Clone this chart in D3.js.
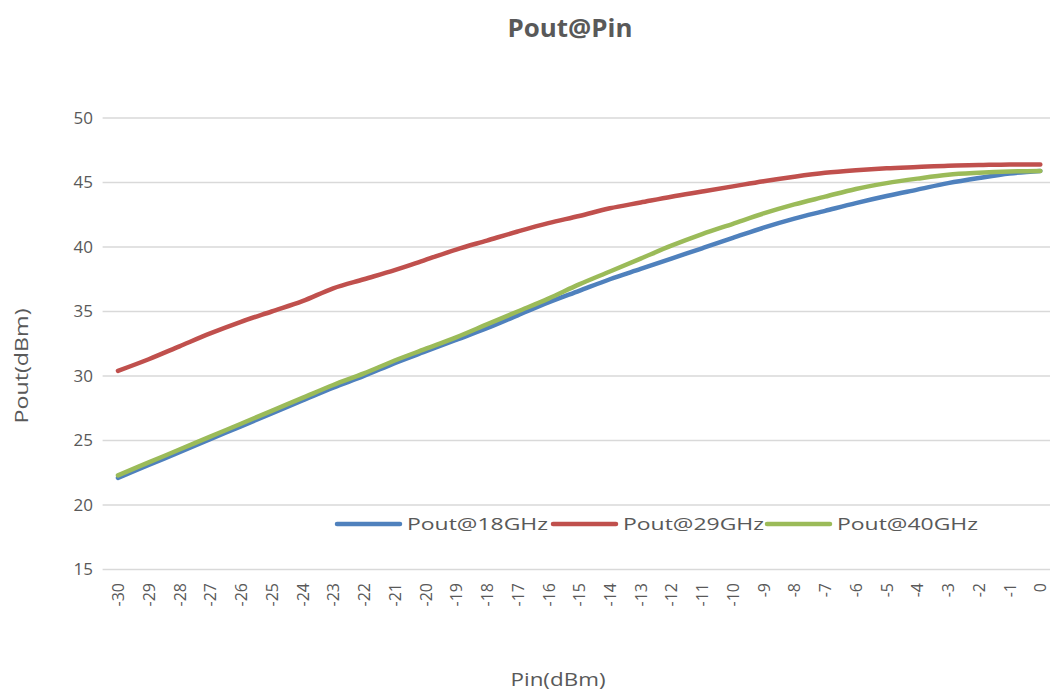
<!DOCTYPE html>
<html><head><meta charset="utf-8">
<script src="https://cdn.jsdelivr.net/npm/d3@7"></script>
<style>body{margin:0;background:#fff}svg{display:block}text{font-family:"Open Sans",sans-serif;fill:#595959}</style>
</head><body><div id="chart"></div>
<script>
const categories = [-30,-29,-28,-27,-26,-25,-24,-23,-22,-21,-20,-19,-18,-17,-16,-15,-14,-13,-12,-11,-10,-9,-8,-7,-6,-5,-4,-3,-2,-1,0];
const pout18 = [22.1,23.1,24.1,25.1,26.1,27.1,28.1,29.1,30.0,31.0,31.9,32.8,33.7,34.7,35.7,36.6,37.5,38.3,39.1,39.9,40.7,41.5,42.2,42.8,43.4,43.95,44.45,44.95,45.35,45.7,45.9];
const pout29 = [30.4,31.3,32.3,33.3,34.2,35.0,35.8,36.8,37.5,38.2,39.0,39.8,40.5,41.2,41.85,42.4,43.0,43.45,43.9,44.3,44.7,45.1,45.45,45.75,45.95,46.1,46.2,46.3,46.35,46.4,46.4];
const pout40 = [22.3,23.3,24.3,25.3,26.3,27.3,28.3,29.3,30.2,31.2,32.1,33.0,34.0,35.0,36.0,37.1,38.1,39.1,40.1,41.0,41.8,42.6,43.3,43.9,44.5,44.95,45.3,45.6,45.75,45.85,45.9];
const seriesNames = ["Pout@18GHz","Pout@29GHz","Pout@40GHz"];
const seriesColors = ["#4F81BD","#C0504D","#9BBB59"];
const yTicks = [15,20,25,30,35,40,45,50];

const W = 1050, H = 691;
const svg = d3.select("#chart").append("svg").attr("width", W).attr("height", H);
const x = d3.scalePoint().domain(categories).range([102.6, 1055.7]).padding(0.5);
const y = d3.scaleLinear().domain([15, 50]).range([569.5, 118]);

// grid
svg.append("g").selectAll("line").data(yTicks).join("line")
  .attr("x1", 102.6).attr("x2", 1055.7)
  .attr("y1", d => y(d)).attr("y2", d => y(d))
  .attr("stroke", "#d9d9d9").attr("stroke-width", 1.3);

// y axis labels
const yAxis = d3.axisLeft(y).tickValues(yTicks).tickSize(0).tickPadding(0);
const gy = svg.append("g").attr("transform", "translate(93,0)").call(yAxis);
gy.select(".domain").remove();
gy.selectAll("text").style("font-size", "17px").attr("fill", "#595959").attr("font-family", "'Open Sans',sans-serif");

// x axis labels
const xAxis = d3.axisBottom(x).tickSize(0).tickPadding(0);
const gx = svg.append("g").attr("transform", "translate(0,583)").call(xAxis);
gx.select(".domain").remove();
gx.selectAll("text").style("font-size", "16px").attr("fill", "#595959").attr("font-family", "'Open Sans',sans-serif")
  .attr("text-anchor", "end").attr("dy", "0.35em").attr("dx", 0).attr("y", 0)
  .attr("transform", "rotate(-90)");

// lines
const data = [pout18, pout29, pout40];
const line = d3.line().x((d, i) => x(categories[i])).y(d => y(d)).curve(d3.curveCatmullRom.alpha(0.5));
svg.append("g").selectAll("path").data(data).join("path")
  .attr("d", d => line(d)).attr("fill", "none")
  .attr("stroke", (d, i) => seriesColors[i]).attr("stroke-width", 4.5)
  .attr("stroke-linecap", "round").attr("stroke-linejoin", "round");

// legend
const legendX = [337, 553, 767];
const lg = svg.append("g").selectAll("g").data(seriesNames).join("g")
  .attr("transform", (d, i) => `translate(${legendX[i]},524)`);
lg.append("line").attr("x1", 0).attr("x2", 63).attr("y1", 0).attr("y2", 0)
  .attr("stroke", (d, i) => seriesColors[i]).attr("stroke-width", 4.5).attr("stroke-linecap", "round");
lg.append("text").attr("x", 70).attr("y", 0).attr("dy", "0.35em").style("font-size", "17px")
  .attr("textLength", 141).attr("lengthAdjust", "spacingAndGlyphs").text(d => d);

// titles
svg.append("text").attr("x", 570).attr("y", 37).attr("text-anchor", "middle")
  .style("font-size", "25px").style("font-weight", "bold")
  .attr("textLength", 125).attr("lengthAdjust", "spacingAndGlyphs").text("Pout@Pin");
svg.append("text").attr("transform", "translate(28,366) rotate(-90)").attr("text-anchor", "middle")
  .style("font-size", "18px").attr("textLength", 115).attr("lengthAdjust", "spacingAndGlyphs").text("Pout(dBm)");
svg.append("text").attr("x", 558).attr("y", 686).attr("text-anchor", "middle")
  .style("font-size", "18px").attr("textLength", 95).attr("lengthAdjust", "spacingAndGlyphs").text("Pin(dBm)");
</script></body></html>
